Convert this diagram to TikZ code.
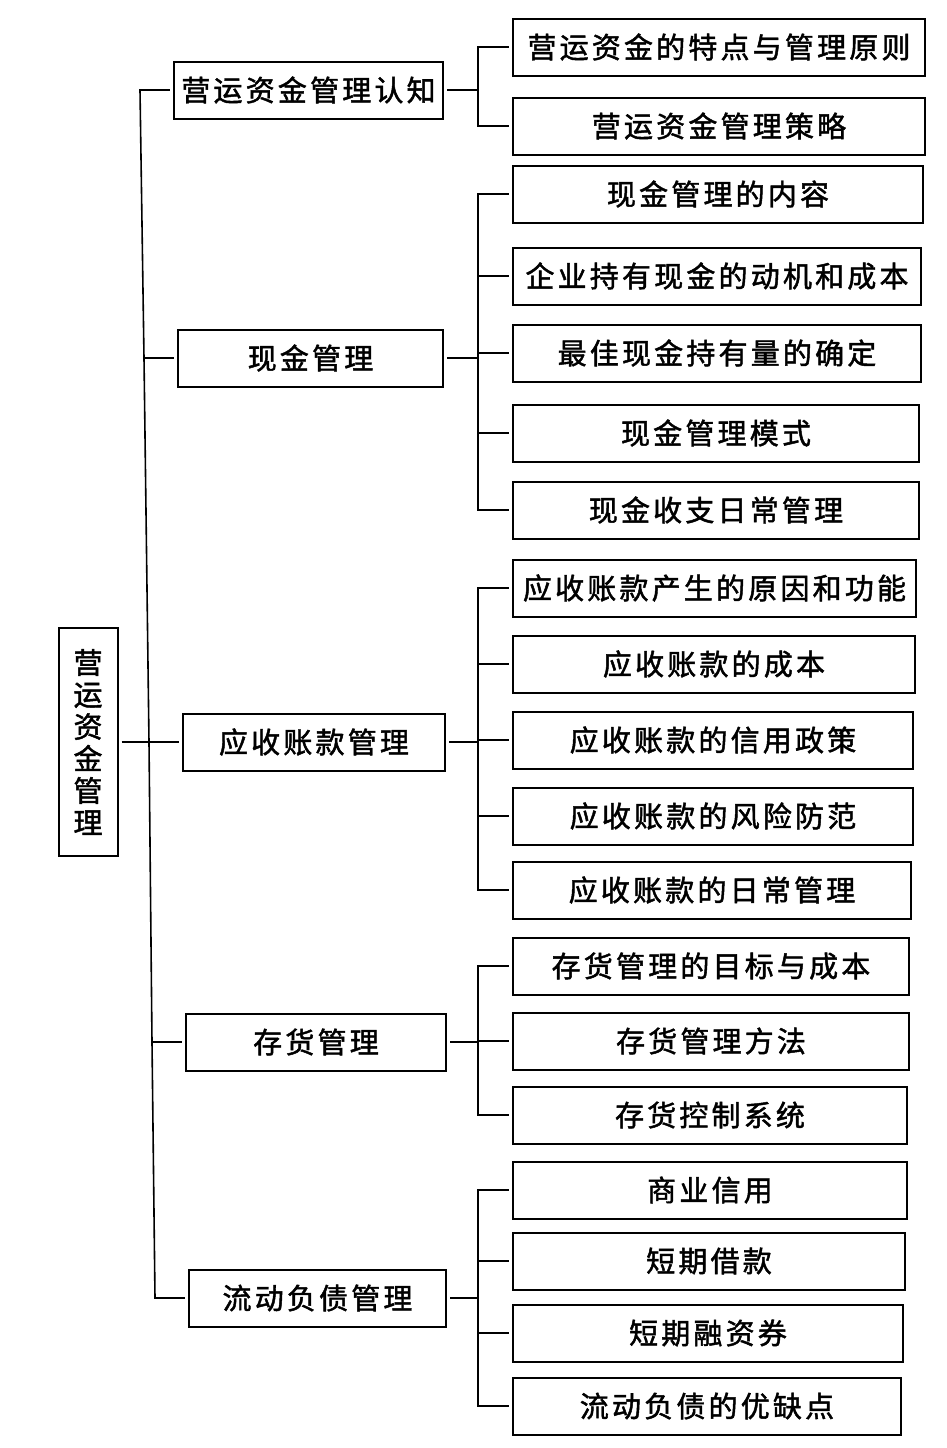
\documentclass[tikz,border=0pt]{standalone}
\usepackage{fontspec}
\newfontfamily\cjkfont{Noto Sans CJK SC}[LetterSpace=11, FakeBold=1.6]
\usetikzlibrary{positioning}

\begin{document}
\begin{tikzpicture}[x=1pt, y=-1pt,
                  box/.style = {draw, line width=2pt, minimum height=57pt, inner sep=0pt,
                                font=\cjkfont\fontsize{29}{32}\selectfont},
                  link/.style = {line width=1.6pt, shorten <=3pt, shorten >=3pt},
                  rail/.style = {line width=1.6pt, line cap=rect}
                  ]
\useasboundingbox (0,0) rectangle (947,1448);
% root
\node (root) [box, minimum width=59pt, minimum height=228pt, align=center]
      at (88,742) {营\\运\\资\\金\\管\\理};
% first level
\foreach \x/\y/\w/\n/\t in {173/90/269/A/营运资金管理认知,
                            177/358/265/B/现金管理,
                            182/742/262/C/应收账款管理,
                            185/1042/260/D/存货管理,
                            188/1298/257/E/流动负债管理}
    \node (\n) [box, anchor=west, minimum width=\w pt] at (\x,\y) {\t};
% second level
\foreach \y/\r/\t [count=\i] in {47/924/营运资金的特点与管理原则,
                                126/924/营运资金管理策略,
                                194/922/现金管理的内容,
                                276/920/企业持有现金的动机和成本,
                                353/920/最佳现金持有量的确定,
                                433/918/现金管理模式,
                                510/918/现金收支日常管理,
                                588/915/应收账款产生的原因和功能,
                                664/914/应收账款的成本,
                                740/912/应收账款的信用政策,
                                816/912/应收账款的风险防范,
                                890/910/应收账款的日常管理,
                                966/908/存货管理的目标与成本,
                                1041/908/存货管理方法,
                                1115/906/存货控制系统,
                                1190/906/商业信用,
                                1261/904/短期借款,
                                1333/902/短期融资券,
                                1406/900/流动负债的优缺点}
    \node (s\i) [box, anchor=west, minimum width={\r pt-512pt}] at (512,\y) {\t};
% trunk
\foreach \n in {A,B,C,D,E}
    \coordinate (t\n) at ([xshift=-33pt]\n.west);
\draw[rail] (tA) -- (tB) -- (tC) -- (tD) -- (tE);
\foreach \n in {A,B,D,E}
    \draw[link, shorten <=0pt] (t\n) -- (\n.west);
\draw[link] (root) -- (C);
% brackets
\coordinate (bx) at (478,0);
\foreach \n/\first/\last in {A/1/2, B/3/7, C/8/12, D/13/15, E/16/19}{
    \draw[link, shorten >=0pt] (\n.east) -- (\n.east -| bx);
    \draw[rail] (s\first.west -| bx) -- (s\last.west -| bx);
    \foreach \i in {\first,...,\last}
        \draw[link, shorten <=0pt] (s\i.west -| bx) -- (s\i.west);
}
\end{tikzpicture}
\end{document}
